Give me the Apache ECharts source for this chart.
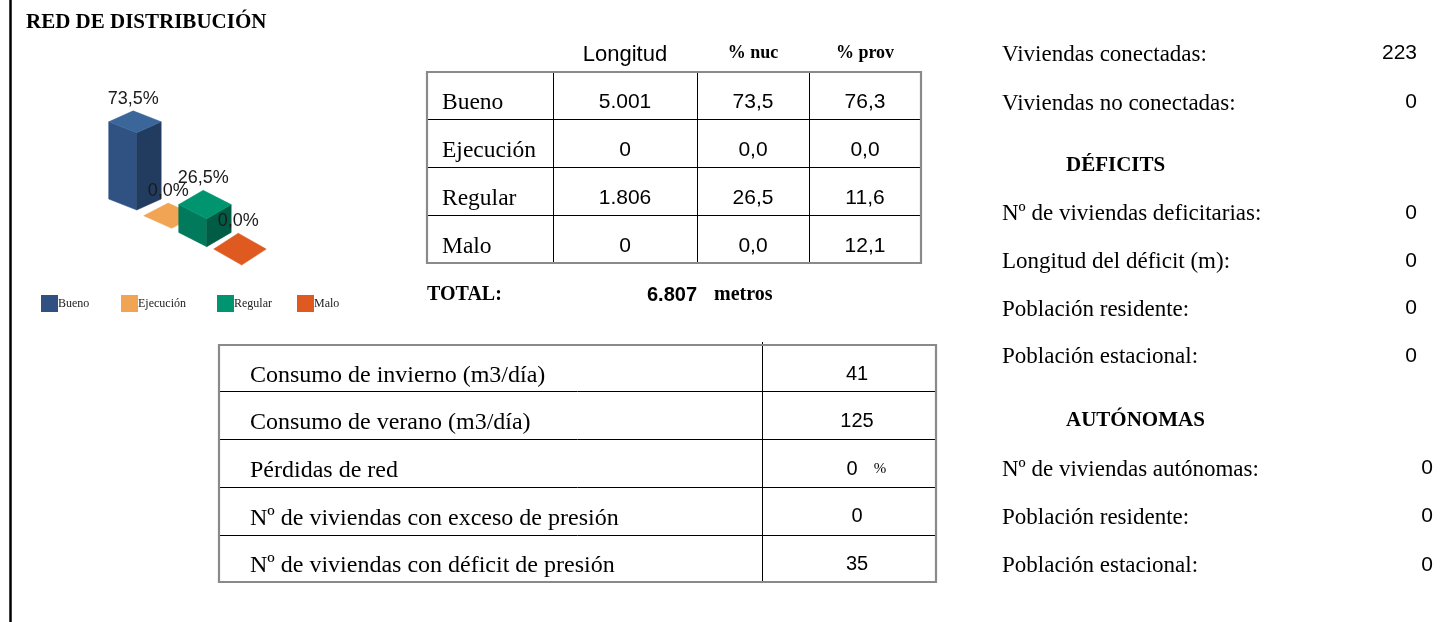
<!DOCTYPE html>
<html>
<head>
<meta charset="utf-8">
<script src="https://cdn.jsdelivr.net/npm/echarts@6/dist/echarts.min.js"></script>
<style>html,body{margin:0;padding:0;background:#fff;}#main{width:1454px;height:622px;}</style>
</head>
<body>
<div id="main"></div>
<script>
// ---------- DATA ----------
const categories = ['Bueno', 'Ejecución', 'Regular', 'Malo'];
const longitud = [5001, 0, 1806, 0];
const pctNuc = [73.5, 0.0, 26.5, 0.0];
const pctProv = [76.3, 0.0, 11.6, 12.1];
const tableHeaders = ['Longitud', '% nuc', '% prov'];
const totalLabel = 'TOTAL:';
const totalUnit = 'metros';
const consumoLabels = ['Consumo de invierno (m3/día)', 'Consumo de verano (m3/día)', 'Pérdidas de red',
  'Nº de viviendas con exceso de presión', 'Nº de viviendas con déficit de presión'];
const consumoValues = [41, 125, 0, 0, 35];
const consumoUnits = ['', '', '%', '', ''];
const viviendasLabels = ['Viviendas conectadas:', 'Viviendas no conectadas:'];
const viviendasValues = [223, 0];
const deficitTitle = 'DÉFICITS';
const deficitLabels = ['Nº de viviendas deficitarias:', 'Longitud del déficit (m):', 'Población residente:', 'Población estacional:'];
const deficitValues = [0, 0, 0, 0];
const autonomasTitle = 'AUTÓNOMAS';
const autonomasLabels = ['Nº de viviendas autónomas:', 'Población residente:', 'Población estacional:'];
const autonomasValues = [0, 0, 0];
const chartTitle = 'RED DE DISTRIBUCIÓN';

// ---------- STYLE ----------
const legendColors = ['#2F5081', '#F0A454', '#00956F', '#DE5A20'];
const faceColors = [
  { top: '#3B6699', front: '#2F5283', side: '#223C60' },
  { top: '#F0A454', front: '#D88E40', side: '#B87430' },
  { top: '#00956F', front: '#007A5B', side: '#005C44' },
  { top: '#DE5A20', front: '#C04A18', side: '#A03C12' }
];
const SERIF = '"Liberation Serif", "Times New Roman", serif';
const SANS = '"Liberation Sans", Arial, sans-serif';

function fmtThousands(n) { return String(n).replace(/\B(?=(\d{3})+(?!\d))/g, '.'); }
function fmtDec(v) { return v.toFixed(1).replace('.', ','); }

// ---------- 3D-looking bars (custom series) ----------
function makeRender(i) {
  return function (params, api) {
    const ci = api.value(0), v = api.value(1);
    const x0 = api.coord([0, 0])[0];
    const base = api.coord([ci, 0]);
    const top = api.coord([ci, v]);
    const off = base[0] - x0;
    const skew = off * 0.524;
    const d = 11 + off * 0.047;
    const WL = 28, WR = 24.5;
    const fb = [base[0], base[1] + skew];
    const ft = [top[0], top[1] + skew];
    const P = (p, dx, dy) => [p[0] + dx, p[1] + dy];
    const Lt = P(ft, -WL, -d), Rt = P(ft, WR, -d), Bt = P(ft, WR - WL, -2 * d);
    const Lb = P(fb, -WL, -d), Rb = P(fb, WR, -d);
    const c = faceColors[i];
    const children = [];
    if (v > 0) {
      children.push({ type: 'polygon', z2: i * 4 + 1, shape: { points: [Lt, ft, fb, Lb] }, style: { fill: c.front, stroke: c.front, lineWidth: 0.5 } });
      children.push({ type: 'polygon', z2: i * 4 + 2, shape: { points: [ft, Rt, Rb, fb] }, style: { fill: c.side, stroke: c.side, lineWidth: 0.5 } });
    }
    children.push({ type: 'polygon', z2: i * 4 + 3, shape: { points: [ft, Lt, Bt, Rt] }, style: { fill: c.top, stroke: c.top, lineWidth: 0.5 } });
    children.push({ type: 'text', z2: 100, x: Bt[0], y: Bt[1] - 12,
      style: { text: fmtDec(v) + '%', fontFamily: SANS, fontSize: 18, fill: '#1a1a1a', align: 'center', verticalAlign: 'middle' } });
    return { type: 'group', children: children };
  };
}

const series = categories.map((name, i) => ({
  type: 'custom',
  name: name,
  coordinateSystem: 'cartesian2d',
  clip: false,
  silent: true,
  itemStyle: { color: legendColors[i] },
  data: [[i, pctNuc[i]]],
  renderItem: makeRender(i)
}));

const legendLefts = [41, 121, 217, 297];
const legends = categories.map((name, i) => ({
  data: [name], left: legendLefts[i], top: 295, padding: 0,
  itemWidth: 17, itemHeight: 17, icon: 'rect', selectedMode: false,
  textStyle: { fontFamily: SERIF, fontSize: 12, color: '#222', padding: [0, 0, 0, -5] }
}));

// ---------- graphic helpers ----------
const g = [];
function T(x, y, text, o) {
  o = o || {};
  g.push({ type: 'text', x: x, y: y, silent: true, style: {
    text: String(text), fontFamily: o.family || SERIF, fontSize: o.size || 23,
    fontWeight: o.weight || 'normal', fill: o.color || '#000',
    align: o.align || 'left', verticalAlign: 'middle' } });
}
function L(x1, y1, x2, y2, o) {
  o = o || {};
  g.push({ type: 'line', silent: true, shape: { x1, y1, x2, y2 },
    style: { stroke: o.color || '#000', lineWidth: o.width || 1 } });
}
function R(x, y, w, h) {
  g.push({ type: 'rect', silent: true, z: 10, shape: { x, y, width: w, height: h },
    style: { fill: 'none', stroke: '#8A8A8A', lineWidth: 2.2 } });
}

// left rule
L(10.5, 0, 10.5, 622, { width: 2.5 });
// title
T(26, 23, chartTitle, { size: 21, weight: 'bold' });

// top table
const colX = [553.5, 697.5, 809.5];
const colC = [625, 753, 865];
T(colC[0], 55, tableHeaders[0], { family: SANS, size: 22, align: 'center' });
T(colC[1], 53, tableHeaders[1], { size: 18, weight: 'bold', align: 'center' });
T(colC[2], 53, tableHeaders[2], { size: 18, weight: 'bold', align: 'center' });
colX.forEach(x => L(x, 72, x, 263));
[119.5, 167.5, 215.5].forEach(y => L(427, y, 921, y));
R(427, 72, 494, 191);
categories.forEach((c, i) => {
  const y = 103 + 48 * i;
  T(442, y, c, { size: 23.5 });
  T(colC[0], y - 1, fmtThousands(longitud[i]), { family: SANS, size: 21, align: 'center' });
  T(colC[1], y - 1, fmtDec(pctNuc[i]), { family: SANS, size: 21, align: 'center' });
  T(colC[2], y - 1, fmtDec(pctProv[i]), { family: SANS, size: 21, align: 'center' });
});
const total = longitud.reduce((a, b) => a + b, 0);
T(427, 295, totalLabel, { size: 20, weight: 'bold' });
T(697, 295, fmtThousands(total), { family: SANS, size: 20, weight: 'bold', align: 'right' });
T(714, 295, totalUnit, { size: 20, weight: 'bold' });

// bottom table
L(762.5, 342, 762.5, 582);
[391.5, 439.5, 487.5, 535.5].forEach(y => L(219, y, 936, y));
R(219, 345, 717, 237);
consumoLabels.forEach((lab, i) => {
  const y = 375.5 + 47.6 * i;
  T(250, y, lab, { size: 24 });
  if (consumoUnits[i]) {
    T(852, y - 1.5, consumoValues[i], { family: SANS, size: 20, align: 'center' });
    T(880, y - 1.5, consumoUnits[i], { size: 15, align: 'center' });
  } else {
    T(857, y - 1.5, consumoValues[i], { family: SANS, size: 20, align: 'center' });
  }
});

// right column
viviendasLabels.forEach((lab, i) => {
  const y = 55 + 48.5 * i;
  T(1002, y, lab, { size: 23 });
  T(1417, y - 1.5, viviendasValues[i], { family: SANS, size: 21, align: 'right' });
});
T(1066, 166, deficitTitle, { size: 21, weight: 'bold' });
deficitLabels.forEach((lab, i) => {
  const y = 214 + 47.8 * i;
  T(1002, y, lab, { size: 23 });
  T(1417, y - 1, deficitValues[i], { family: SANS, size: 21, align: 'right' });
});
T(1066, 421, autonomasTitle, { size: 21, weight: 'bold' });
autonomasLabels.forEach((lab, i) => {
  const y = 469.5 + 48.2 * i;
  T(1002, y, lab, { size: 23 });
  T(1433, y - 1, autonomasValues[i], { family: SANS, size: 21, align: 'right' });
});

const chart = echarts.init(document.getElementById('main'), null, { renderer: 'canvas' });
chart.setOption({
  animation: false,
  backgroundColor: '#fff',
  grid: { left: 119.2, top: 105, width: 140, height: 105 },
  xAxis: { type: 'category', data: categories, show: false, boundaryGap: true },
  yAxis: { type: 'value', min: 0, max: 100, show: false },
  legend: legends,
  series: series,
  graphic: g
});
</script>
</body>
</html>
